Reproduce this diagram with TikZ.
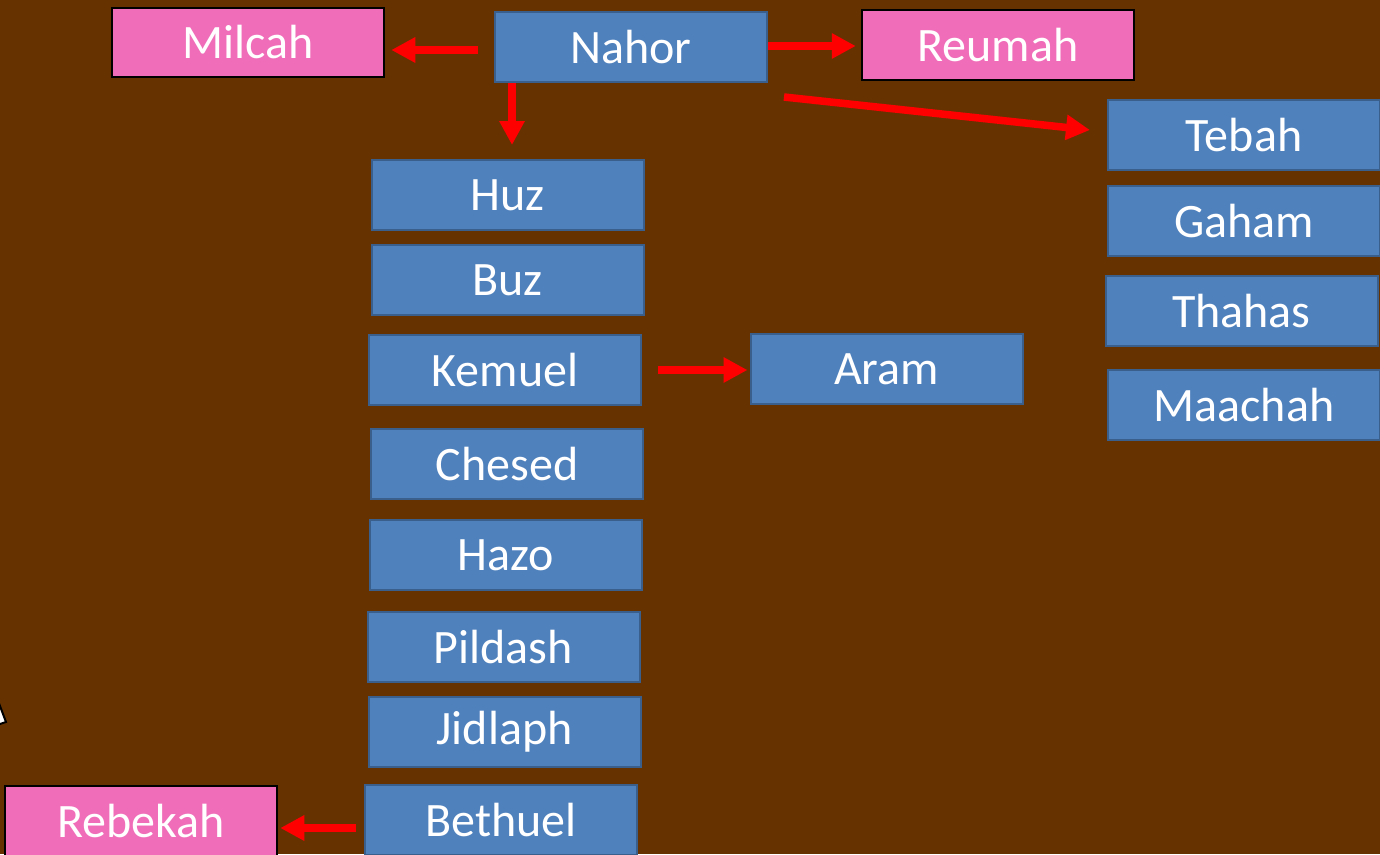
\documentclass[tikz,border=0pt]{standalone}
\usepackage{fontspec}
\setmainfont{Carlito}
\usetikzlibrary{arrows.meta,calc}
\definecolor{bg}{HTML}{663300}
\definecolor{bluefill}{HTML}{4F81BD}
\definecolor{blueline}{HTML}{3A5F8C}
\definecolor{pinkfill}{HTML}{F06EB9}
\definecolor{arrred}{HTML}{FF0000}
\tikzset{
  person/.style={minimum width=272pt, minimum height=70pt, inner sep=0pt, text=white,
    font=\fontsize{48}{52}\selectfont},
  blue/.style={person, fill=bluefill, draw=blueline, line width=2pt},
  pink/.style={person, fill=pinkfill, draw=black, line width=2.5pt},
  arr/.style={draw=arrred, line width=7.5pt, -{Triangle[length=24pt,width=24pt]}},
}
\begin{document}
\begin{tikzpicture}[x=1pt,y=-1pt]
\fill[bg] (0,0) rectangle (1380,854);
\useasboundingbox (0,0) rectangle (1380,854);
\begin{scope}
\clip (0,0) rectangle (1380,854);
\filldraw[fill=white, draw=black, line width=2pt] (-3,698) -- (6,722) -- (-3,725) -- cycle;
\node[pink, minimum height=69pt] (milcah) at (248,42.5) {Milcah};
\node[blue] (nahor) at (631,47) {Nahor};
\node[pink] (reumah) at (998,45) {Reumah};
\node[blue] (tebah) at (1244,135) {Tebah};
\node[blue] (gaham) at (1244,221) {Gaham};
\node[blue] (thahas) at (1241.5,311) {Thahas};
\node[blue] (maachah) at (1244,405) {Maachah};
\node[blue] (huz) at (507.5,195) {Huz};
\node[blue] (buz) at (507.5,280) {Buz};
\node[blue] (kemuel) at (505,370) {Kemuel};
\node[blue] (aram) at (886.5,369) {Aram};
\node[blue] (chesed) at (507,464) {Chesed};
\node[blue] (hazo) at (505.5,555) {Hazo};
\node[blue] (pildash) at (503.5,647) {Pildash};
\node[blue] (jidlaph) at (504.5,732) {Jidlaph};
\node[blue] (bethuel) at (501,820) {Bethuel};
\node[pink] (rebekah) at (141,821) {Rebekah};
\draw[arr, shorten <=16pt, shorten >=6pt] (nahor.west |- 0,50) -- (milcah.east |- 0,50);
\draw[arr, shorten >=5pt] (nahor.east |- 0,46) -- (reumah.west |- 0,46);
\draw[arr, shorten >=14pt] (512,0 |- nahor.south) -- (512,0 |- huz.north);
\draw[arr] ($(nahor.south east)+(16,14)$) -- ($(tebah.west)+(-17,-5)$);
\draw[arr, shorten <=16pt, shorten >=2pt] (kemuel.east |- 0,370) -- (aram.west |- 0,370);
\draw[arr, shorten <=8pt, shorten >=2pt] (bethuel.west |- 0,828) -- (rebekah.east |- 0,828);
\end{scope}
\end{tikzpicture}
\end{document}
